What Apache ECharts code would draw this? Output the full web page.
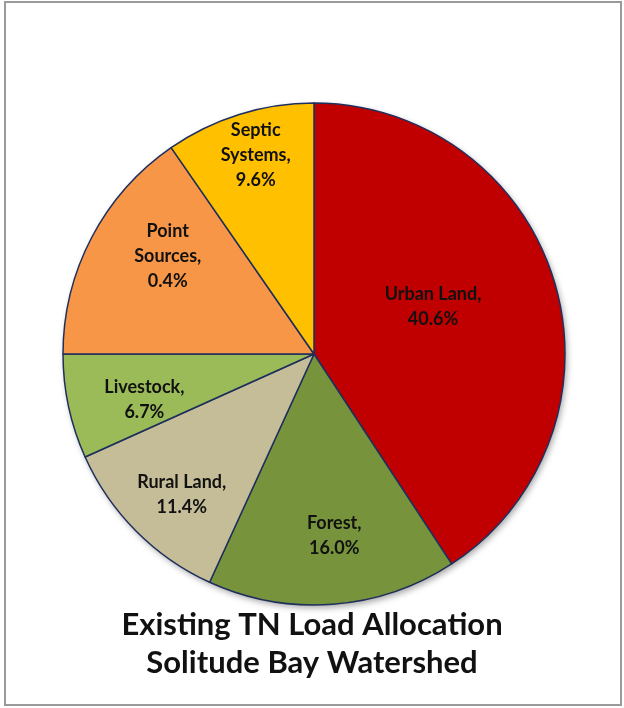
<!DOCTYPE html>
<html>
<head>
<meta charset="utf-8">
<script src="https://cdn.jsdelivr.net/npm/echarts@6/dist/echarts.min.js"></script>
<style>
  html, body { margin: 0; padding: 0; background: #fff; }
  #chart { width: 624px; height: 708px; }
</style>
</head>
<body>
<div id="chart"></div>
<script>
// slice names as shown on the chart (line breaks as in the picture)
const categories = ['Urban Land', 'Forest', 'Rural Land', 'Livestock', 'Point\nSources', 'Septic\nSystems']
// slice sizes as drawn (percent of the circle)
const sliceValues = [40.6, 16.0, 11.4, 6.7, 15.3, 9.6]
// percent text printed in each label
const labelPercents = ['40.6%', '16.0%', '11.4%', '6.7%', '0.4%', '9.6%']
const colors = ['#C00000', '#77933C', '#C4BD97', '#9BBB59', '#F79646', '#FFC000']

const center = [314, 354]
const radius = 251
// label placement: distance from centre (share of radius) and angle nudge (deg)
const labelDist = [0.51, 0.73, 0.77, 0.70, 0.70, 0.825]
const labelTurn = [-5, -2, -2, -3, 6, 1]

const total = sliceValues.reduce((a, b) => a + b, 0)
const midAngles = []
let acc = 0
for (const v of sliceValues) {
  midAngles.push((acc + v / 2) / total * 360)
  acc += v
}

const chart = echarts.init(document.getElementById('chart'))
chart.setOption({
  animation: false,
  title: {
    text: 'Existing TN Load Allocation\nSolitude Bay Watershed',
    left: 'center',
    top: 601,
    textStyle: {
      fontFamily: 'Lato',
      fontWeight: 'bold',
      fontSize: 31,
      lineHeight: 38,
      color: '#111'
    }
  },
  graphic: [{
    type: 'rect',
    shape: { x: 5, y: 2, width: 616, height: 703 },
    style: { fill: 'none', stroke: '#9a9a9a', lineWidth: 2 },
    silent: true
  }],
  series: [
    {
      // soft shadow behind the pie
      type: 'pie',
      silent: true,
      z: 1,
      center: center,
      radius: radius,
      label: { show: false },
      itemStyle: {
        color: '#fff',
        shadowBlur: 6,
        shadowOffsetX: 2,
        shadowOffsetY: 3,
        shadowColor: 'rgba(0,0,0,0.35)'
      },
      data: [{ value: 1 }]
    },
    {
      type: 'pie',
      z: 2,
      center: center,
      radius: radius,
      startAngle: 90,
      clockwise: true,
      color: colors,
      itemStyle: { borderColor: '#1F2F5C', borderWidth: 1.5 },
      label: {
        show: true,
        position: 'inside',
        fontFamily: 'Lato',
        fontWeight: 'bold',
        fontSize: 18,
        lineHeight: 25,
        color: '#111',
        align: 'center',
        formatter: p => categories[p.dataIndex] + ',\n' + labelPercents[p.dataIndex]
      },
      labelLayout: params => {
        const i = params.dataIndex
        const a = (midAngles[i] + labelTurn[i]) * Math.PI / 180
        const d = labelDist[i] * radius
        return {
          x: center[0] + d * Math.sin(a),
          y: center[1] - d * Math.cos(a),
          align: 'center',
          verticalAlign: 'middle'
        }
      },
      data: categories.map((c, i) => ({ name: c, value: sliceValues[i] }))
    }
  ]
})
</script>
</body>
</html>
